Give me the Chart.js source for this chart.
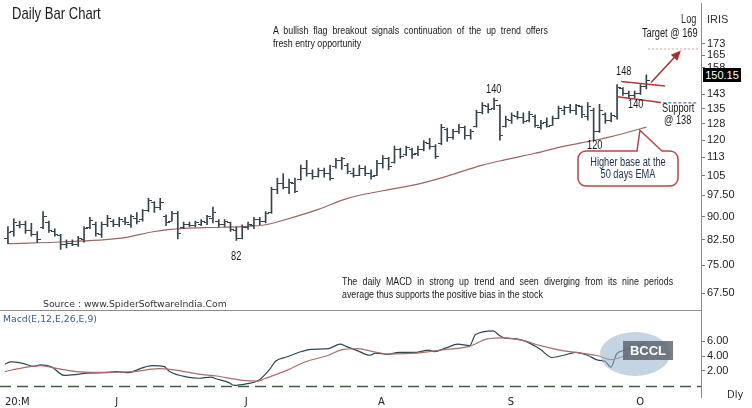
<!DOCTYPE html>
<html>
<head>
<meta charset="utf-8">
<title>Daily Bar Chart</title>
<script src="https://cdn.jsdelivr.net/npm/chart.js@4.4.1/dist/chart.umd.min.js"></script>
<style>
    html, body { margin: 0; padding: 0; background: #fff; }
    #wrap { position: relative; width: 752px; height: 408px; overflow: hidden; background: #fff; }
    #priceCanvas { position: absolute; left: 0; top: 0; }
    #macdCanvas { position: absolute; left: 0; top: 311px; }
    .txt {
        position: absolute; white-space: nowrap; color: #1a1a1a;
        font-family: "Liberation Sans", Arial, sans-serif;
    }
    /* no narrow face installed, so squeeze the regular one */
    .nar { transform: scaleX(0.77); transform-origin: 0 0; }
    .just { text-align: justify; text-align-last: justify; white-space: normal; }
    .verd { font-family: "DejaVu Sans", Verdana, sans-serif; }
    #sep { position: absolute; left: 0; top: 310px; width: 702px; height: 1px; background: #8c8c8c; }
    #axisLine { position: absolute; left: 701px; top: 3px; width: 1px; height: 395px; background: #8c8c8c; }
    #lastPrice {
        position: absolute; left: 703px; top: 68px; width: 38px; height: 14px; background: #000; color: #fff;
        font: 11px "Liberation Sans", sans-serif; line-height: 14px; text-align: center;
    }
    #callout {
        position: absolute; left: 568px; top: 156px; width: 120px; text-align: center; color: #1f2c4a;
        font-size: 12px; line-height: 12px; transform: scaleX(0.77); transform-origin: 50% 0;
    }
    #bubble { position: absolute; left: 600px; top: 332px; width: 70px; height: 44px; border-radius: 50%; background: rgba(150, 176, 202, 0.55); }
    #tag {
        position: absolute; left: 623px; top: 341px; width: 50px; height: 19px; background: rgba(95, 104, 114, 0.85);
        color: #fff; font: bold 13px "Liberation Sans", sans-serif; line-height: 19px; text-align: center;
    }
</style>
</head>
<body>
<div id="wrap">
    <canvas id="priceCanvas" width="752" height="311"></canvas>
    <canvas id="macdCanvas" width="752" height="97"></canvas>
    <div id="sep"></div>
    <div id="axisLine"></div>

    <div class="txt nar" style="left:12px; top:4px; font-size:17px; line-height:19px;">Daily Bar Chart</div>
    <div class="txt nar just" style="left:273px; top:24px; width:357px; font-size:11.5px; line-height:13px;">A bullish flag breakout signals continuation of the up trend offers</div>
    <div class="txt nar" style="left:273px; top:37px; font-size:11.5px; line-height:13px;">fresh entry opportunity</div>

    <div class="txt nar" style="left:681px; top:12px; font-size:12px; line-height:14px; color:#333;">Log</div>
    <div class="txt" style="left:707px; top:12px; font-size:11px; line-height:14px; color:#333;">IRIS</div>
    <div class="txt nar" style="left:642px; top:26px; font-size:12px; line-height:14px;">Target @ 169</div>
    <div class="txt nar" style="left:616px; top:64px; font-size:12px; line-height:14px;">148</div>
    <div class="txt nar" style="left:486px; top:82px; font-size:12px; line-height:14px;">140</div>
    <div class="txt nar" style="left:628px; top:97px; font-size:12px; line-height:14px;">140</div>
    <div class="txt nar" style="left:662px; top:101px; font-size:12px; line-height:14px;">Support</div>
    <div class="txt nar" style="left:664px; top:113px; font-size:12px; line-height:14px;">@ 138</div>
    <div class="txt nar" style="left:587px; top:138px; font-size:12px; line-height:14px;">120</div>
    <div class="txt nar" style="left:231px; top:249px; font-size:12px; line-height:14px;">82</div>
    <div id="callout" class="txt">Higher base at the<br>50 days EMA</div>
    <div id="lastPrice"></div>

    <div class="txt nar just" style="left:342px; top:275px; width:430px; font-size:11.5px; line-height:13px;">The daily MACD in strong up trend and seen diverging from its nine periods</div>
    <div class="txt nar" style="left:342px; top:288px; font-size:11.5px; line-height:13px;">average thus supports the positive bias in the stock</div>
    <div class="txt verd" style="left:43px; top:298px; font-size:9.3px; line-height:12px; color:#333;">Source : www.SpiderSoftwareIndia.Com</div>
    <div class="txt verd" style="left:3px; top:313px; font-size:9.3px; line-height:12px; color:#3d5a86;">Macd(E,12,E,26,E,9)</div>

    <div id="bubble"></div>
    <div id="tag">BCCL</div>
    <div class="txt verd" style="left:727px; top:389px; font-size:10px; line-height:12px; color:#333;">Dly</div>
</div>

<script>
// daily OHLC, May 2020 to 6 Oct 2020
const opens = [83, 85, 87.2, 87.5, 85.5, 84, 86.5, 88, 85, 83.8,
    81, 81.5, 81, 82.5, 86.5, 87.5, 84, 87.5, 88.5, 87.5,
    88.5, 87.5, 89.5, 89, 92, 95, 93, 90, 88.5, 91,
    86.5, 87.5, 87, 87.5, 88, 89.5, 88.5, 87.5, 88, 85.5,
    83, 86.5, 87, 89, 88.5, 91.5, 99.5, 102, 100.5, 102,
    103.5, 108, 106, 104.5, 107, 106, 108.5, 111, 109, 106,
    105, 108, 106, 105, 110, 112, 110.5, 116, 113.5, 116,
    114, 116, 118.5, 117, 118.5, 125, 121, 124, 126, 122,
    126.5, 133, 136, 135, 136.5, 126.5, 129, 131, 130.5, 129,
    131, 126, 128, 127, 130, 134, 135.5, 134, 136, 131,
    134, 124, 132, 129, 131, 145.5, 143, 142, 143, 147];
const highs = [86.7, 89.3, 88.5, 88.5, 87.8, 85.1, 91.7, 88.5, 86, 84.2,
    82.5, 82.5, 83.6, 86.7, 89.8, 88.2, 88.2, 90.4, 89, 89.8,
    89.8, 90.6, 91.4, 92.4, 96.4, 95.2, 96.4, 90.6, 91.8, 91.7,
    88.2, 88.2, 88.5, 89, 90.4, 93.3, 89, 89, 88.2, 86.5,
    87.3, 88.2, 89.8, 89.8, 91.7, 100.5, 104, 105.8, 103.6, 104,
    109.2, 111.2, 107.3, 108, 108, 109.2, 112, 112.5, 110, 108,
    109.2, 108.8, 107.3, 111.2, 113.2, 112.5, 117.3, 116.5, 117.3, 116.5,
    117.3, 119.8, 120.8, 118, 127.3, 125.5, 124.9, 127.3, 126.5, 124.9,
    134.2, 138.2, 137.7, 140.5, 137, 131.3, 132.9, 133.7, 132.9, 133.7,
    132, 129.3, 130.5, 131.3, 136.3, 136.3, 137.2, 137.2, 136.3, 138.2,
    135.3, 137.2, 132.9, 132.9, 147.9, 146.2, 144.3, 144.3, 147.9, 153.3];
const lows = [81.3, 83.6, 86.3, 84.5, 83.6, 81.6, 86, 84.8, 83.6, 79.6,
    80, 80.7, 80.5, 81.8, 86, 83.6, 83.2, 86.7, 86.7, 86.7,
    87.3, 86.4, 87.6, 88.5, 91.7, 91.4, 92.4, 87, 88.5, 82.8,
    86, 86.7, 86.7, 87, 87.3, 87.9, 86.7, 86.7, 85.1, 82.3,
    82.8, 85.8, 86, 87.3, 87.9, 91.1, 98.1, 99.9, 98.1, 98.5,
    103.2, 104.8, 103.6, 104.4, 104.4, 103.2, 108, 107.5, 105.8, 104.4,
    105, 105, 103.6, 105, 108, 107.3, 110, 112, 113.2, 112,
    113.2, 115.2, 116, 112, 118, 119.4, 120.4, 123, 120.4, 120.4,
    126, 132.4, 132.9, 134.5, 120, 126, 127.8, 129.8, 127.8, 128.5,
    126, 125, 126, 126.8, 130, 132, 132.9, 132, 130.5, 129.3,
    119.9, 123.5, 127.8, 128.5, 129.8, 142, 140.5, 140.5, 142.5, 145.5];
const closes = [84.8, 88, 87.5, 85.5, 84.2, 82.5, 90, 85.5, 84.2, 81,
    81.5, 81, 83, 86, 88.8, 84.5, 87.5, 89.5, 87.5, 89,
    88, 90, 88.5, 92, 95.5, 93, 95, 88, 91, 84.5,
    87.5, 87, 88, 88.3, 90, 91.5, 87.5, 88.5, 85.8, 83,
    86.5, 87.5, 89, 88.5, 91, 99.5, 102, 100.5, 102.5, 99,
    108, 106, 104.5, 107, 106, 104, 111, 112, 106.5, 105,
    108, 106, 104.5, 110, 112, 108.5, 116, 113, 116.5, 113.5,
    116, 119, 117, 113, 126, 121, 124, 126, 122, 124,
    133, 136.5, 134.5, 139, 122, 129.5, 131.5, 130.5, 128.5, 132,
    127, 127.5, 126.5, 130, 135, 135.5, 134, 136.5, 132, 136,
    124, 134, 129, 131.5, 146, 143, 142, 143, 147, 150.15];

// 50 day EMA, read at [bar, price]
const emaPoints = [[0, 81.3], [10, 81.9], [20, 83.2], [25, 85.1], [30, 86.1], [35, 86.4], [40, 86.7],
    [44, 87.3], [47, 88.8], [53, 92.5], [58, 96.4], [64, 99.2], [70, 101.7], [75, 104.8], [81, 109.2],
    [85, 111.5], [90, 114.2], [95, 117.3], [100, 119.8], [103, 121.6], [106, 123.7], [109, 126]];

// MACD and its 9 period signal, read at [bar, value]
const macdPoints = [[0, 2.9], [1, 3.2], [3, 3.0], [5, 2.6], [6, 2.8], [8, 2.5], [10, 1.4], [12, 1.5],
    [14, 1.7], [17, 1.75], [19, 1.9], [21, 1.75], [23, 2.3], [25, 2.7], [27, 2.6], [28, 1.9], [31, 1.15],
    [33, 1.0], [35, 1.15], [36, 0.9], [38, 0.45], [39, 0.05], [41, 0.25], [43, 0.65], [45, 2.2], [46, 3.3],
    [48, 3.9], [50, 4.5], [52, 4.9], [55, 5.0], [57, 5.6], [58, 5.3], [60, 4.7], [62, 4.1], [63, 4.4],
    [65, 4.2], [67, 4.5], [70, 4.5], [72, 4.8], [73, 4.6], [75, 5.1], [77, 5.6], [79, 5.4], [80, 6.9],
    [83, 7.4], [84, 6.8], [85, 6.4], [87, 6.3], [89, 5.8], [91, 4.9], [93, 3.8], [95, 4.1], [97, 4.5],
    [99, 4.1], [101, 3.4], [102, 3.3], [103, 2.5], [104, 4.3], [105, 4.7], [107, 5.2], [109, 5.8]];
const signalPoints = [[0, 1.9], [3, 2.4], [6, 2.7], [9, 2.3], [12, 1.9], [16, 1.8], [22, 1.9], [26, 2.3],
    [29, 2.1], [33, 1.55], [36, 1.3], [40, 0.75], [43, 0.6], [44, 0.9], [48, 2.1], [51, 3.2], [55, 4.1],
    [57, 4.8], [60, 5.0], [62, 4.7], [65, 4.3], [70, 4.4], [74, 4.8], [79, 5.3], [82, 6.3], [85, 6.45],
    [88, 6.1], [91, 5.4], [95, 4.7], [98, 4.4], [101, 4.0], [103, 3.5], [105, 3.9], [109, 4.7]];

const monthTicks = [[0, "20:M"], [19, "J"], [41, "J"], [64, "A"], [86, "S"], [108, "O"]];
const priceTicks = [67.5, 75, 82.5, 90, 97.5, 105, 112.5, 120, 127.5, 135, 142.5, 157.5, 165, 172.5];
const priceTickLabels = ["67.50", "75.00", "82.50", "90.00", "97.50", "105", "113", "120", "128", "135", "143", "158", "165", "173"];
const macdTicks = [2, 4, 6];
const macdTickLabels = ["2.00", "4.00", "6.00"];

// annotations, in [bar, price]
const flagLines = [[[104.7, 149.5], [112.2, 147.0]], [[104.1, 141.2], [111.5, 138.2]]];
const targetArrow = [[109.8, 149], [114.9, 168.1]];
const targetLevel = [169, 109.3, 117.8];
const supportLevel = [138, 111.9, 117.8];
const emaCalloutTip = [107.9, 124.5];

const slotCount = 119;
const slotLabels = Array.from({ length: slotCount }, (_, i) => "d" + i);
const barColor = "#34434e";

function spread(points) {
    const arr = new Array(slotCount).fill(null);
    points.forEach(([i, v]) => { arr[i] = v; });
    return arr;
}

function tickImage(side) {
    const c = document.createElement("canvas");
    c.width = 7;
    c.height = 1;
    const g = c.getContext("2d");
    g.fillStyle = barColor;
    g.fillRect(side === "left" ? 0 : 4, 0, 3, 1);
    return c;
}

document.getElementById("lastPrice").textContent = closes[closes.length - 1].toFixed(2);

const annotations = {
    id: "annotations",
    afterDatasetsDraw(chart) {
        const { ctx, scales } = chart;
        const px = (i) => scales.x.getPixelForValue(i);
        const py = (p) => scales.y.getPixelForValue(p);
        ctx.save();

        // flag
        ctx.strokeStyle = "#b03a3a";
        ctx.lineWidth = 1.5;
        flagLines.forEach((seg) => {
            ctx.beginPath();
            ctx.moveTo(px(seg[0][0]), py(seg[0][1]));
            ctx.lineTo(px(seg[1][0]), py(seg[1][1]));
            ctx.stroke();
        });

        // target arrow
        const ax0 = px(targetArrow[0][0]), ay0 = py(targetArrow[0][1]);
        const ax1 = px(targetArrow[1][0]), ay1 = py(targetArrow[1][1]);
        const ang = Math.atan2(ay1 - ay0, ax1 - ax0);
        ctx.strokeStyle = "#a52f2f";
        ctx.beginPath();
        ctx.moveTo(ax0, ay0);
        ctx.lineTo(ax1 - 6 * Math.cos(ang), ay1 - 6 * Math.sin(ang));
        ctx.stroke();
        ctx.fillStyle = "#a52f2f";
        ctx.beginPath();
        ctx.moveTo(ax1, ay1);
        ctx.lineTo(ax1 - 10 * Math.cos(ang) + 4.5 * Math.sin(ang), ay1 - 10 * Math.sin(ang) - 4.5 * Math.cos(ang));
        ctx.lineTo(ax1 - 10 * Math.cos(ang) - 4.5 * Math.sin(ang), ay1 - 10 * Math.sin(ang) + 4.5 * Math.cos(ang));
        ctx.closePath();
        ctx.fill();

        // target and support levels
        ctx.lineWidth = 1;
        ctx.setLineDash([2, 2]);
        ctx.strokeStyle = "#e09a9a";
        ctx.beginPath();
        ctx.moveTo(px(targetLevel[1]), py(targetLevel[0]));
        ctx.lineTo(px(targetLevel[2]), py(targetLevel[0]));
        ctx.stroke();
        ctx.setLineDash([3, 2]);
        ctx.strokeStyle = "#2b4a86";
        ctx.beginPath();
        ctx.moveTo(px(supportLevel[1]), py(supportLevel[0]));
        ctx.lineTo(px(supportLevel[2]), py(supportLevel[0]));
        ctx.stroke();
        ctx.setLineDash([]);

        // callout bubble pointing at the EMA
        const L = 578, T = 151, R = 678, B = 186, r = 8;
        const tx = px(emaCalloutTip[0]), ty = py(emaCalloutTip[1]);
        ctx.beginPath();
        ctx.moveTo(662, T);
        ctx.lineTo(R - r, T);
        ctx.arcTo(R, T, R, T + r, r);
        ctx.lineTo(R, B - r);
        ctx.arcTo(R, B, R - r, B, r);
        ctx.lineTo(L + r, B);
        ctx.arcTo(L, B, L, B - r, r);
        ctx.lineTo(L, T + r);
        ctx.arcTo(L, T, L + r, T, r);
        ctx.lineTo(637, T);
        ctx.lineTo(tx, ty);
        ctx.closePath();
        ctx.fillStyle = "#fff";
        ctx.fill();
        ctx.strokeStyle = "#b5474a";
        ctx.lineWidth = 1.5;
        ctx.stroke();

        ctx.restore();
    },
};

const zeroLine = {
    id: "zeroLine",
    beforeDatasetsDraw(chart) {
        const { ctx, chartArea, scales } = chart;
        const y = Math.round(scales.y.getPixelForValue(0)) + 0.5;
        ctx.save();
        ctx.strokeStyle = "#3b5e44";
        ctx.lineWidth = 1.5;
        ctx.setLineDash([11, 6]);
        ctx.beginPath();
        ctx.moveTo(chartArea.left - 2, y);
        ctx.lineTo(chartArea.right, y);
        ctx.stroke();
        ctx.restore();
    },
};

function rightAxis(ticks, labels, min, max, type) {
    return {
        type: type,
        position: "right",
        min: min,
        max: max,
        bounds: "data",
        afterBuildTicks: (s) => { s.ticks = ticks.map((v) => ({ value: v })); },
        afterFit: (s) => { s.width = 50; },
        ticks: {
            autoSkip: false,
            padding: 2,
            color: "#222",
            font: { family: "Liberation Sans", size: 11 },
            callback: (v, i) => labels[i],
        },
        grid: { drawOnChartArea: false, tickLength: 3, color: "#777" },
        border: { display: false },
    };
}

new Chart(document.getElementById("priceCanvas"), {
    type: "bar",
    data: {
        labels: slotLabels,
        datasets: [
            {
                type: "line",
                label: "EMA 50",
                data: spread(emaPoints),
                borderColor: "#9e6464",
                borderWidth: 1.2,
                pointRadius: 0,
                spanGaps: true,
                cubicInterpolationMode: "monotone",
                order: 3,
            },
            {
                label: "Range",
                data: highs.map((h, i) => [lows[i], h]),
                backgroundColor: barColor,
                barThickness: 1,
                grouped: false,
                order: 2,
            },
            {
                type: "line",
                label: "Open",
                data: opens,
                showLine: false,
                pointStyle: tickImage("left"),
                pointRadius: 1,
                order: 1,
            },
            {
                type: "line",
                label: "Close",
                data: closes,
                showLine: false,
                pointStyle: tickImage("right"),
                pointRadius: 1,
                order: 1,
            },
        ],
    },
    options: {
        responsive: false,
        animation: false,
        events: [],
        layout: { padding: { left: 2, top: 0, bottom: 1, right: 0 } },
        plugins: { legend: { display: false }, tooltip: { enabled: false } },
        scales: {
            x: { display: false, offset: true },
            y: rightAxis(priceTicks, priceTickLabels, 65.2, 196.7, "logarithmic"),
        },
    },
    plugins: [annotations],
});

const monthLabel = {};
monthTicks.forEach(([i, t]) => { monthLabel[i] = t; });

new Chart(document.getElementById("macdCanvas"), {
    type: "line",
    data: {
        labels: slotLabels,
        datasets: [
            {
                label: "Signal",
                data: spread(signalPoints),
                borderColor: "#a66e6e",
                borderWidth: 1.2,
                pointRadius: 0,
                spanGaps: true,
                cubicInterpolationMode: "monotone",
            },
            {
                label: "MACD",
                data: spread(macdPoints),
                borderColor: "#2c4655",
                borderWidth: 1.2,
                pointRadius: 0,
                spanGaps: true,
                cubicInterpolationMode: "monotone",
            },
        ],
    },
    options: {
        responsive: false,
        animation: false,
        events: [],
        layout: { padding: { left: 2, top: 1, bottom: 0, right: 0 } },
        plugins: { legend: { display: false }, tooltip: { enabled: false } },
        scales: {
            x: {
                offset: true,
                afterFit: (s) => { s.height = 21; },
                grid: { display: false },
                border: { display: false },
                ticks: {
                    autoSkip: false,
                    maxRotation: 0,
                    align: "inner",
                    padding: 1,
                    color: "#222",
                    font: { family: "DejaVu Sans", size: 10 },
                    callback: (v, i) => monthLabel[i] || "",
                },
            },
            y: rightAxis(macdTicks, macdTickLabels, -0.18, 8.91, "linear"),
        },
    },
    plugins: [zeroLine],
});
</script>
</body>
</html>
